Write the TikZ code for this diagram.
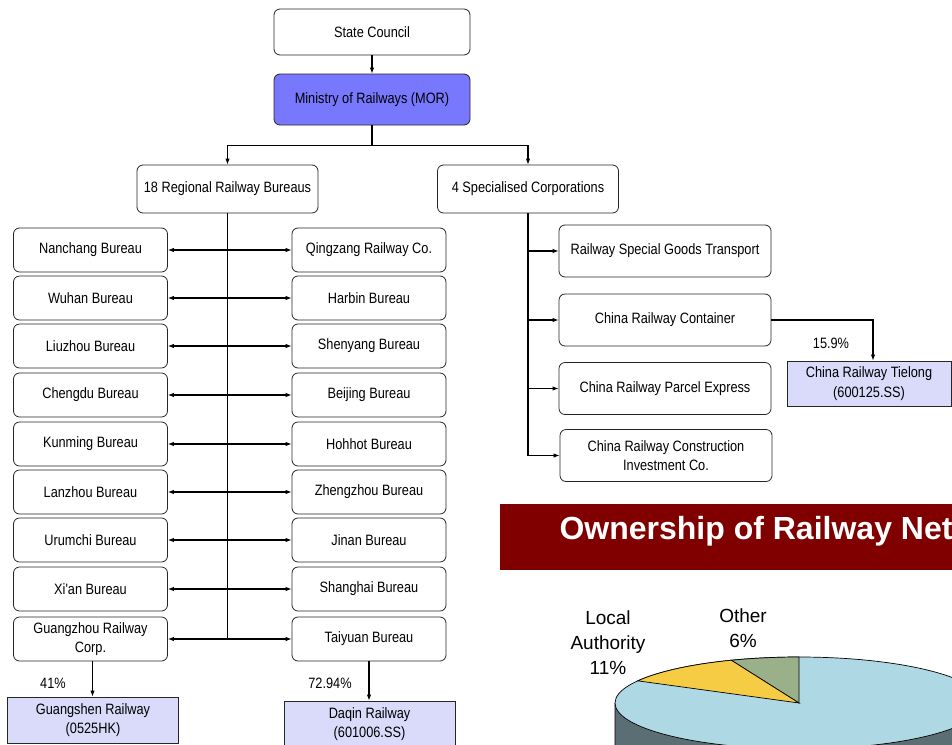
\documentclass[tikz,border=0pt]{standalone}
\usepackage{fontspec}
\setmainfont{Liberation Sans}
\newfontfamily\narrowfont{Liberation Sans}[FakeStretch=0.85]
\usetikzlibrary{arrows.meta,positioning}

\definecolor{morblue}{RGB}{120,120,255}
\definecolor{listedblue}{RGB}{218,218,250}
\definecolor{bannerred}{RGB}{128,0,0}
\definecolor{pieblue}{RGB}{173,216,228}
\definecolor{pieside}{RGB}{90,110,115}
\definecolor{pieyellow}{RGB}{247,204,69}
\definecolor{piegreen}{RGB}{154,176,136}

\tikzset{
  >={Latex[length=6pt,width=4.5pt]},
  boxtext/.style={font=\narrowfont\fontsize{15}{19.5}\selectfont, align=center},
  box/.style={boxtext, draw=black!85, line width=0.8pt, rounded corners=6pt, fill=white, inner sep=1pt},
  bureau/.style={box, minimum width=154pt, minimum height=44pt},
  corp/.style={box, minimum width=212pt, minimum height=52pt},
  listed/.style={boxtext, draw=black!85, line width=0.8pt, fill=listedblue, inner sep=1pt},
  link/.style={line width=1.1pt},
  trunk/.style={line width=1.6pt}
}

\begin{document}
\begin{tikzpicture}[x=1pt,y=-1pt]
	\useasboundingbox (0,0) rectangle (952,744);
	% top of the tree
	\node [box, minimum width=196pt, minimum height=46pt] (SC) at (372,32) {State Council};
	\node [box, fill=morblue, minimum width=196pt, minimum height=51pt] (MOR) at (372,99.5) {Ministry of Railways (MOR)};
	\node [box, minimum width=181pt, minimum height=48pt] (RRB) at (227.5,189) {18 Regional Railway Bureaus};
	\node [box, minimum width=181pt, minimum height=48pt] (SPC) at (528,189) {4 Specialised Corporations};
	% bureaus, left column
	\node [bureau] (L1) at (90.5,250) {Nanchang Bureau};
	\node [bureau] (L2) at (90.5,298) {Wuhan Bureau};
	\node [bureau] (L3) at (90.5,346) {Liuzhou Bureau};
	\node [bureau] (L4) at (90.5,395) {Chengdu Bureau};
	\node [bureau] (L5) at (90.5,444) {Kunming Bureau};
	\node [bureau] (L6) at (90.5,492) {Lanzhou Bureau};
	\node [bureau] (L7) at (90.5,540) {Urumchi Bureau};
	\node [bureau] (L8) at (90.5,589) {Xi'an Bureau};
	\node [bureau] (L9) at (90.5,639) {Guangzhou Railway\\Corp.};
	% bureaus, right column
	\node [bureau] (R1) at (369,250) {Qingzang Railway Co.};
	\node [bureau] (R2) at (369,298) {Harbin Bureau};
	\node [bureau] (R3) at (369,346) {Shenyang Bureau};
	\node [bureau] (R4) at (369,395) {Beijing Bureau};
	\node [bureau] (R5) at (369,444) {Hohhot Bureau};
	\node [bureau] (R6) at (369,492) {Zhengzhou Bureau};
	\node [bureau] (R7) at (369,540) {Jinan Bureau};
	\node [bureau] (R8) at (369,589) {Shanghai Bureau};
	\node [bureau] (R9) at (369,639) {Taiyuan Bureau};
	% listed companies
	\node [listed, minimum width=171pt, minimum height=46pt] (GS) at (93,720) {Guangshen Railway\\(0525HK)};
	\node [listed, minimum width=171pt, minimum height=46pt] (DQ) at (369.5,724) {Daqin Railway\\(601006.SS)};
	\node [listed, minimum width=164pt, minimum height=45pt] (TL) at (869,383.5) {China Railway Tielong\\(600125.SS)};
	% specialised corporations
	\node [corp] (C1) at (665,251) {Railway Special Goods Transport};
	\node [corp] (C2) at (665,320) {China Railway Container};
	\node [corp] (C3) at (665,388.5) {China Railway Parcel Express};
	\node [corp] (C4) at (666,455.5) {China Railway Construction\\Investment Co.};
	% shares
	\node [boxtext] (P1) at (53,683) {41\%};
	\node [boxtext] (P2) at (330,683) {72.94\%};
	\node [boxtext] (P3) at (831,343) {15.9\%};
	% connectors
	\path [->, link] (SC) edge (MOR);
	\draw [->, link] (MOR.south) -- ++(0,20) -| (RRB.north);
	\draw [->, link] (MOR.south) -- ++(0,20) -| (SPC.north);
	\coordinate (RB) at (RRB.south |- L9.east);
	\draw [trunk] (RRB.south) -- (RB);
	\draw [<->, link] (L1.east) -- (R1.west);
	\draw [<->, link] (L2.east) -- (R2.west);
	\draw [<->, link] (L3.east) -- (R3.west);
	\draw [<->, link] (L4.east) -- (R4.west);
	\draw [<->, link] (L5.east) -- (R5.west);
	\draw [<->, link] (L6.east) -- (R6.west);
	\draw [<->, link] (L7.east) -- (R7.west);
	\draw [<->, link] (L8.east) -- (R8.west);
	\draw [<->, link] (L9.east) -- (R9.west);
	\draw [->, link] ([xshift=2pt]L9.south) -- ([xshift=2pt]L9.south |- GS.north);
	\draw [->, link] (R9.south) -- (R9.south |- DQ.north);
	\coordinate (SB) at (SPC.south |- C4.west);
	\draw [trunk] (SPC.south) -- (SB);
	\draw [->, link] (SPC.south |- C1.west) -- (C1.west);
	\draw [->, link] (SPC.south |- C2.west) -- (C2.west);
	\draw [->, link] (SPC.south |- C3.west) -- (C3.west);
	\draw [->, link] (SB) -- (C4.west);
	\draw [->, link] (C2.east) -| ([xshift=4pt]TL.north);
	% ownership banner
	\fill [bannerred] (500,504) rectangle (960,570);
	\node [anchor=west, text=white, font=\bfseries\fontsize{32}{36}\selectfont] (T) at (556,531) {Ownership of Railway Net};
	% pie
	\filldraw [fill=pieside, line width=0.7pt] (615,703) -- (615,770) arc [start angle=180, end angle=0, x radius=184, y radius=46] -- (983,703) -- cycle;
	\filldraw [fill=pieblue, line width=0.7pt] (799,703) ellipse [x radius=184, y radius=46];
	\filldraw [fill=piegreen, line width=0.7pt] (799,703) -- ++(-90:184 and 46) arc [start angle=-90, end angle=-111.6, x radius=184, y radius=46] -- cycle;
	\filldraw [fill=pieyellow, line width=0.7pt] (799,703) -- ++(-111.6:184 and 46) arc [start angle=-111.6, end angle=-151.2, x radius=184, y radius=46] -- cycle;
	\node [align=center, font=\fontsize{19}{25}\selectfont] (LA) at (608,643) {Local\\Authority\\11\%};
	\node [align=center, font=\fontsize{19}{25}\selectfont] (OT) at (743,628) {Other\\6\%};
\end{tikzpicture}
\end{document}
